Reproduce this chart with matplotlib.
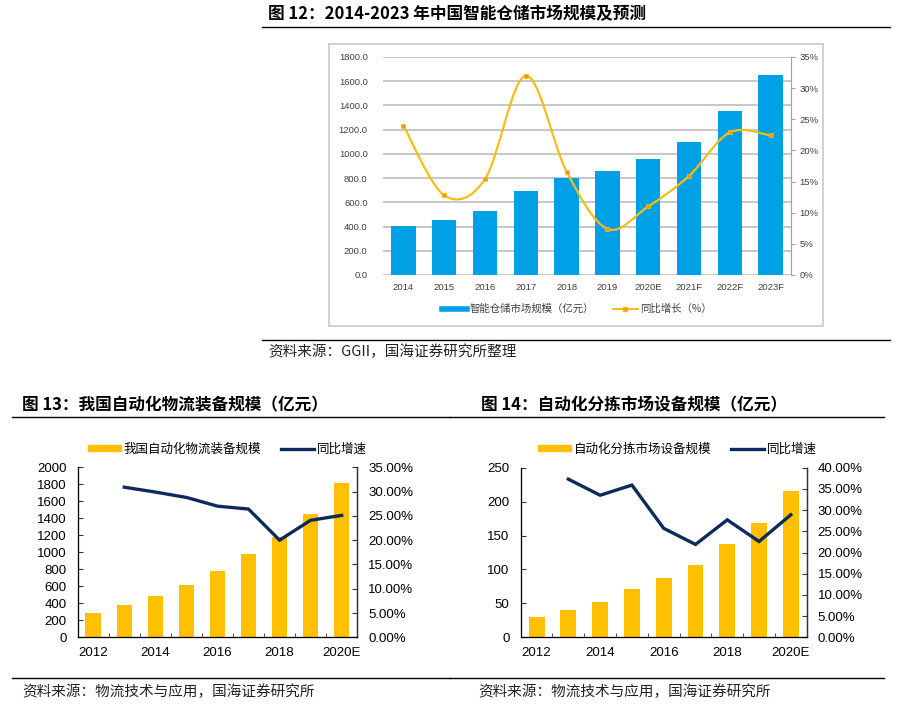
import matplotlib
matplotlib.use("Agg")
import matplotlib.pyplot as plt
import numpy as np
from matplotlib.path import Path
from matplotlib.patches import PathPatch, Rectangle
from matplotlib.lines import Line2D
from matplotlib.ticker import FuncFormatter

plt.rcParams['font.family'] = ['Liberation Sans', 'Noto Sans CJK SC', 'DejaVu Sans']

# ---- data: figure 12 (smart warehousing market) ----
years12 = ['2014', '2015', '2016', '2017', '2018', '2019', '2020E', '2021F', '2022F', '2023F']
size12 = [405, 450, 525, 690, 800, 860, 955, 1100, 1350, 1650]
growth12 = [24.0, 12.8, 15.4, 32.0, 16.6, 7.4, 11.0, 15.9, 22.9, 22.4]

# ---- data: figure 13 (automated logistics equipment) ----
years13 = ['2012', '2013', '2014', '2015', '2016', '2017', '2018', '2019', '2020E']
size13 = [290, 376, 482, 616, 780, 980, 1176, 1451, 1810]
growth13 = [np.nan, 30.9, 29.9, 28.8, 27.0, 26.4, 20.0, 24.1, 25.1]

# ---- data: figure 14 (automated sorting equipment) ----
years14 = ['2012', '2013', '2014', '2015', '2016', '2017', '2018', '2019', '2020E']
size14 = [30, 40, 52.5, 71, 88, 107, 137, 168, 215]
growth14 = [np.nan, 37.3, 33.5, 35.9, 25.7, 21.9, 27.7, 22.6, 28.9]

W, H = 901, 710
fig = plt.figure(figsize=(W / 100, H / 100), dpi=100)

CJK = ['Noto Sans CJK SC', 'DejaVu Sans']


def rect(x0, y0, x1, y1):
    return [x0 / W, 1 - y1 / H, (x1 - x0) / W, (y1 - y0) / H]


def fx(x):
    return x / W


def fy(y):
    return 1 - y / H


def hline(x0, x1, y, color='black', lw=1.0):
    fig.add_artist(Line2D([fx(x0), fx(x1)], [fy(y), fy(y)], color=color, lw=lw,
                          transform=fig.transFigure))


def smooth_path(xs, ys):
    pts = np.column_stack([xs, ys]).astype(float)
    n = len(pts)
    verts = [pts[0]]
    codes = [Path.MOVETO]
    for i in range(n - 1):
        p0 = pts[i - 1] if i > 0 else pts[i]
        p1, p2 = pts[i], pts[i + 1]
        p3 = pts[i + 2] if i + 2 < n else pts[i + 1]
        verts += [p1 + (p2 - p0) / 6, p2 - (p3 - p1) / 6, p2]
        codes += [Path.CURVE4] * 3
    return Path(verts, codes)


# ================= Figure 12 =================
fig.text(fx(268), fy(14), '图 12：2014-2023 年中国智能仓储市场规模及预测', fontsize=12,
         fontweight='bold', family=CJK, va='center', ha='left')
hline(262, 890, 27)
fig.add_artist(Rectangle((fx(329), fy(326)), fx(823) - fx(329), fy(44) - fy(326),
                         transform=fig.transFigure, fill=False, ec='#C8C8C8', lw=1.2))

ax = fig.add_axes(rect(383, 57, 791, 275))
x12 = np.arange(len(years12))
bars = ax.bar(x12, size12, width=0.6, color='#00A0E6', zorder=2)
ax.set_xlim(-0.5, len(years12) - 0.5)
ax.set_ylim(0, 1800)
ax.set_yticks(np.arange(0, 1801, 200))
ax.yaxis.set_major_formatter(FuncFormatter(lambda v, p: f'{v:.1f}'))
ax.grid(axis='y', color='#BDBDBD', lw=1.2, zorder=0)
ax.set_axisbelow(True)
ax.set_xticks(x12)
ax.set_xticklabels(years12)
for s in ax.spines.values():
    s.set_visible(False)
ax.tick_params(axis='both', length=0, labelsize=6.8, labelcolor='#404040')
ax.tick_params(axis='y', pad=11)
ax.tick_params(axis='x', pad=6)

ax2 = ax.twinx()
ax2.set_ylim(0, 35)
ax2.set_yticks(np.arange(0, 36, 5))
ax2.yaxis.set_major_formatter(FuncFormatter(lambda v, p: f'{v:.0f}%'))
for s in ['top', 'left', 'bottom']:
    ax2.spines[s].set_visible(False)
ax2.spines['right'].set_color('#A0A0A0')
ax2.tick_params(axis='y', direction='out', length=3, color='#A0A0A0', labelsize=6.8,
                labelcolor='#404040', pad=3)
ax2.add_patch(PathPatch(smooth_path(x12, growth12), fill=False, ec='#F2BE1A', lw=1.6, zorder=3))
ax2.plot(x12, growth12, ls='none', marker='s', ms=3.5, mfc='#F39800', mec='#F2BE1A',
         mew=0.6, zorder=4)

h1 = Line2D([], [], color='#00A0E6', lw=4)
h2 = Line2D([], [], color='#F2BE1A', lw=1.4, marker='s', ms=3.5, mfc='#F39800', mec='#F2BE1A')
fig.legend([h1, h2], ['智能仓储市场规模（亿元）', '同比增长（%）'], loc='center',
           bbox_to_anchor=(fx(577), fy(309)), ncol=2, frameon=False,
           prop={'family': CJK, 'size': 7.5}, labelcolor='#404040', handlelength=2.4,
           columnspacing=1.8, handletextpad=0.25)

hline(262, 890, 340)
fig.text(fx(268), fy(352), '资料来源：GGII，国海证券研究所整理', fontsize=10.5, family=CJK,
         va='center', ha='left', color='#222222')


# ================= Figures 13 and 14 =================
def bar_line_chart(box, years, sizes, growth, ymax, ystep, pmax, label, legend_x):
    ax = fig.add_axes(rect(*box))
    x = np.arange(len(years))
    ax.bar(x, sizes, width=0.5, color='#FFC000', zorder=2)
    ax.set_xlim(-0.5, len(years) - 0.5)
    ax.set_ylim(0, ymax)
    ax.set_yticks(np.arange(0, ymax + 1, ystep))
    ax.set_xticks(x[::2])
    ax.set_xticklabels(years[::2])
    ax.set_xticks(np.arange(0.5, len(years) - 0.5, 1), minor=True)
    ax.spines['top'].set_visible(False)
    for s in ['left', 'bottom', 'right']:
        ax.spines[s].set_color('#333333')
        ax.spines[s].set_linewidth(0.9)
    ax.tick_params(axis='y', direction='in', length=3.5, color='#333333', labelsize=9.5, pad=8)
    ax.tick_params(axis='x', which='major', length=0, labelsize=9.5, pad=7)
    ax.tick_params(axis='x', which='minor', direction='in', length=3, color='#333333')

    ax2 = ax.twinx()
    ax2.set_ylim(0, pmax)
    ax2.set_yticks(np.arange(0, pmax + 0.1, 5))
    ax2.yaxis.set_major_formatter(FuncFormatter(lambda v, p: f'{v:.2f}%'))
    ax2.spines['top'].set_visible(False)
    ax2.spines['right'].set_color('#333333')
    ax2.spines['right'].set_linewidth(0.9)
    ax2.tick_params(axis='y', direction='in', length=3.5, color='#333333', labelsize=9.5, pad=8)
    ax2.plot(x, growth, color='#0D2A5C', lw=2.4, zorder=3, solid_joinstyle='miter')

    hb = Rectangle((0, 0), 1, 1, color='#FFC000')
    hl = Line2D([], [], color='#0D2A5C', lw=2.4)
    fig.legend([hb, hl], [label, '同比增速'], loc='center left',
               bbox_to_anchor=(fx(legend_x), fy(449)), ncol=2, frameon=False,
               prop={'family': CJK, 'size': 9}, handlelength=2.6, handleheight=0.45,
               columnspacing=1.6, handletextpad=0.25, borderaxespad=0, borderpad=0)


fig.text(fx(22), fy(405), '图 13：我国自动化物流装备规模（亿元）', fontsize=12,
         fontweight='bold', family=CJK, va='center', ha='left')
hline(12, 450, 417)
bar_line_chart((77.7, 467.3, 357.2, 637.3), years13, size13, growth13, 2000, 200, 35,
               '我国自动化物流装备规模', 88)
hline(12, 450, 678)
fig.text(fx(22), fy(692), '资料来源：物流技术与应用，国海证券研究所', fontsize=10.5, family=CJK,
         va='center', ha='left', color='#222222')

fig.text(fx(481), fy(405), '图 14：自动化分拣市场设备规模（亿元）', fontsize=12,
         fontweight='bold', family=CJK, va='center', ha='left')
hline(450, 884, 417)
bar_line_chart((520.7, 467.7, 806.7, 637.3), years14, size14, growth14, 250, 50, 40,
               '自动化分拣市场设备规模', 538)
hline(450, 884, 678)
fig.text(fx(478), fy(692), '资料来源：物流技术与应用，国海证券研究所', fontsize=10.5, family=CJK,
         va='center', ha='left', color='#222222')

fig.savefig('out.png', dpi=100)
